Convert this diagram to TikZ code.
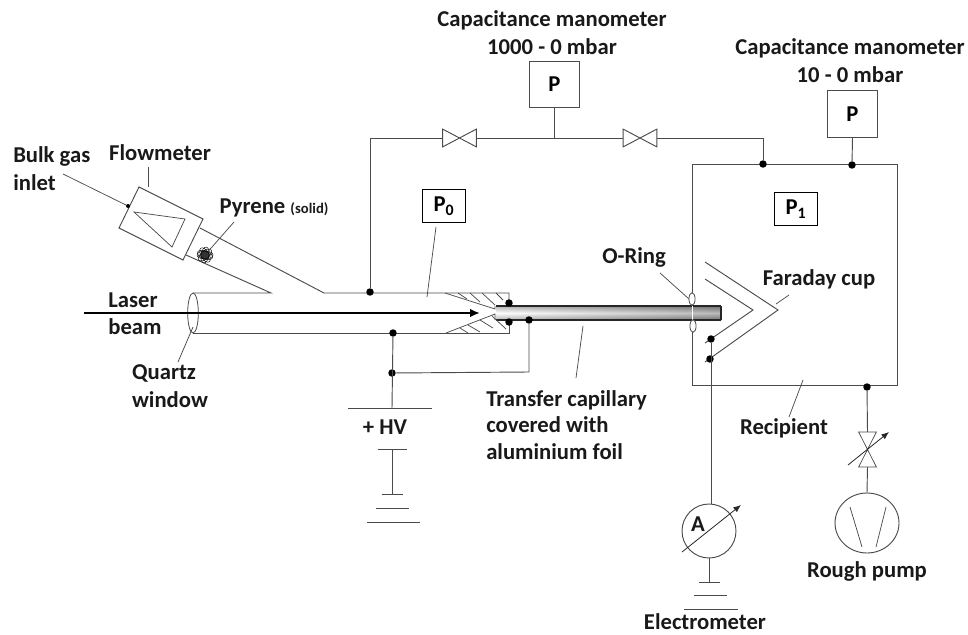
\documentclass[tikz,border=0pt]{standalone}
\usepackage{fontspec}
\setmainfont{Carlito}
\usetikzlibrary{arrows.meta,positioning,calc,shapes.geometric}
\definecolor{pipegray}{RGB}{75,75,75}
\definecolor{capgray}{RGB}{120,120,120}

\begin{document}
\begin{tikzpicture}[x=0.75pt,y=-0.75pt,
  pipe/.style={draw=pipegray,line width=0.7pt},
  thinline/.style={draw=pipegray,line width=0.55pt},
  lbl/.style={font=\fontsize{17}{20}\selectfont\bfseries,text=black!90,inner sep=0pt,align=center},
  pbox/.style={draw=pipegray,line width=0.7pt,minimum width=38pt,minimum height=35pt,inner sep=0pt,font=\fontsize{17}{20}\selectfont\bfseries},
  pzero/.style={draw=black,line width=1.1pt,minimum width=32pt,minimum height=25pt,inner sep=0pt,font=\fontsize{17}{20}\selectfont\bfseries},
  jdot/.style={circle,fill=black,inner sep=0pt,minimum size=5.6pt},
  valvebox/.style={inner sep=0pt,minimum width=25pt,minimum height=13pt},
  arrow/.style={-{Latex[length=2mm,width=1.6mm]},line width=0.6pt,draw=black!85}
]
\useasboundingbox (0,0) rectangle (968,635);
% labels
\node[lbl] (capa) at (552,20) {Capacitance manometer};
\node[lbl] (capb) at (552,47) {1000 - 0 mbar};
\node[lbl] (capc) at (850,48) {Capacitance manometer};
\node[lbl] (capd) at (850,75) {10 - 0 mbar};
\node[lbl,anchor=west] (bulka) at (13,156) {Bulk gas};
\node[lbl,anchor=west] (bulkb) at (13,183) {inlet};
\node[lbl] (flow) at (160,153) {Flowmeter};
\node[lbl] (pyr) at (274,208) {Pyrene {\fontsize{11}{12}\selectfont (solid)}};
\node[lbl] (lasera) at (133,300) {Laser};
\node[lbl] (laserb) at (135,327) {beam};
\node[lbl] (quartz) at (164,373) {Quartz};
\node[lbl] (window) at (170,400) {window};
\node[lbl] (hv) at (385,427) {+ HV};
\node[lbl,align=left,anchor=north west] (transfer) at (486,390) {Transfer capillary\\covered with\\aluminium foil};
\node[lbl] (oring) at (634,257) {O-Ring};
\node[lbl] (faraday) at (819,279) {Faraday cup};
\node[lbl] (recip) at (784,428) {Recipient};
\node[lbl] (rough) at (867,571) {Rough pump};
\node[lbl] (electro) at (705,622) {Electrometer};
% pressure boxes
\node[pbox] (pa) at (554.5,84.5) {P};
\node[pbox] (pb) at (852.5,114) {P};
\node[pzero] (pzeroo) at (444,206) {P\textsubscript{0}};
\node[pzero] (pone) at (796,209) {P\textsubscript{1}};
% valves
\node[valvebox] (va) at (459.5,138) {};
\node[valvebox] (vb) at (640,138) {};
\draw[pipe] (va.north west) -- (va.south east) -- (va.north east) -- (va.south west) -- cycle;
\draw[pipe] (vb.north west) -- (vb.south east) -- (vb.north east) -- (vb.south west) -- cycle;
\node[inner sep=0pt,minimum width=13pt,minimum height=26pt] (vc) at (867.5,449.5) {};
\draw[thinline] (vc.north west) -- (vc.north east) -- (vc.south west) -- (vc.south east) -- cycle;
% recipient
\draw[pipe] (692,164) rectangle (897,385);
% capillary
\shade[top color=capgray,bottom color=capgray,middle color=white] (496,306) rectangle (721,320);
\shade[left color=white,right color=black!60,opacity=0.45] (496,306) rectangle (721,320);
\draw[line width=1.2pt,draw=black!85] (496,306) -- (721,306);
\draw[line width=1.2pt,draw=black!85] (496,320) -- (721,320);
\draw[line width=0.8pt,draw=black!85] (721,306) -- (721,320);
\draw[white,line width=0.5pt] (692,306) -- (692,320);
% source body
\coordinate (ta) at (193,293);
\coordinate (tb) at (271,293);
\coordinate (tc) at (324,293);
\coordinate (td) at (509,293);
\coordinate (te) at (509,333);
\coordinate (tf) at (193,333);
\draw[pipe] (ta) -- (tb) -- (186,255);
\draw[pipe] (200,228) -- (tc) -- (td) -- (509,306);
\draw[pipe] (509,320) -- (te) -- (tf);
\node[draw=pipegray,line width=0.6pt,ellipse,inner sep=0pt,minimum width=8pt,minimum height=30pt] (quartzwin) at (193,313) {};
% nozzle
\draw[thinline] (445,293) -- (495,309) -- (495,306);
\draw[thinline] (446,333) -- (495,314) -- (495,320);
\draw[thinline] (458,293) -- (467,299);
\draw[thinline] (470,293) -- (480,302);
\draw[thinline] (482,293) -- (495,305);
\draw[thinline] (496,293) -- (503,300);
\draw[thinline] (460,328) -- (468,333);
\draw[thinline] (468,325) -- (480,332);
\draw[thinline] (480,320) -- (493,328);
\draw[thinline] (492,316) -- (506,329);
% flowmeter
\draw[pipe] (139,187) -- (203,219) -- (183,260) -- (119,228) -- cycle;
\draw[thinline] (134,212) -- (185,219) -- (172,247) -- cycle;
\node[circle,fill=black,inner sep=0pt,minimum size=3pt] (inlet) at (128,206) {};
\coordinate (bulkend) at (63,174);
\draw[thinline] (bulkend) -- (inlet);
\draw[thinline] (148,167) -- (148,187);
% pyrene
\node[circle,inner sep=0pt,minimum size=7pt,fill=black!80] (blob) at (205,255) {};
\foreach \ang in {0,40,80,120,160}
  \draw[line width=0.35pt,rotate around={\ang:(205,255)}] (205,255) ellipse (8 and 4);
\draw[thinline] (234,222) -- (blob);
% laser
\draw[-{Latex[length=2.6mm,width=2.2mm]},line width=1.5pt,black] (84,313) -- (480,313);
% top line
\node[jdot] (dla) at (370,292) {};
\node[jdot] (dlb) at (763,164) {};
\node[jdot] (dlc) at (852,165) {};
\draw[pipe] (dla) |- (va.west);
\draw[pipe] (va.east) -- (vb.west);
\draw[pipe] (vb.east) -| (dlb);
\draw[pipe] (pa.south) -- (pa.south |- va);
\draw[pipe] (pb.south) -- (dlc);
% HV connection
\node[jdot] (dha) at (393,333) {};
\node[jdot] (dhb) at (392,373) {};
\node[jdot] (dhc) at (529,320) {};
\node[jdot] (dhd) at (509,303) {};
\node[jdot] (dhe) at (509,322) {};
\coordinate (hvbar) at (392,408);
\coordinate (hvtop) at (392,449);
\coordinate (hvgnd) at (392,494);
\draw[pipe] (dha) -- (hvbar);
\draw[pipe] (dhb) -- (529,372) -- (dhc);
\draw[pipe] (348,408) -- (432,408);
\draw[pipe] (378,449) -- (407,449);
\draw[pipe] (hvtop) -- (hvgnd);
\draw[pipe] (382,494) -- (403,494);
\draw[pipe] (376,508) -- (409,508);
\draw[pipe] (367,522) -- (420,522);
% leaders
\draw[thinline] (436,227) -- (427,297);
\draw[thinline] (193,327) -- (178,362);
\draw[thinline] (583,326) -- (576,378);
\draw[thinline] (660,273) -- (689,299);
\draw[thinline] (789,295) -- (776,304);
\draw[thinline] (803,380) -- (789,417);
% o-rings
\node[draw=pipegray,line width=0.6pt,fill=white,ellipse,inner sep=0pt,minimum width=4.6pt,minimum height=9.5pt] (ora) at (692,299) {};
\node[draw=pipegray,line width=0.6pt,fill=white,ellipse,inner sep=0pt,minimum width=4.6pt,minimum height=9.5pt] (orb) at (693,326) {};
% faraday cup
\draw[pipe] (705,262) -- (778,310) -- (705,362);
\draw[pipe] (705,279) -- (753,310) -- (705,343);
\node[jdot] (dfa) at (711,339) {};
\node[jdot] (dfb) at (710,359) {};
% electrometer
\node[draw=pipegray,line width=0.7pt,circle,inner sep=0pt,minimum size=40.5pt] (amp) at (709,531) {};
\node[lbl] (ampa) at (698,524) {A};
\draw[pipe] (dfa) -- (dfa |- amp.north);
\draw[arrow] (682,552) -- (741,505);
\coordinate (gndtop) at (709,582);
\draw[pipe] (amp.south) -- (gndtop);
\draw[pipe] (699,582) -- (720,582);
\draw[pipe] (694,595) -- (727,595);
\draw[pipe] (684,609) -- (738,609);
% pump
\node[jdot] (dpa) at (867,387) {};
\node[draw=pipegray,line width=0.7pt,ellipse,inner sep=0pt,minimum width=48pt,minimum height=45pt] (pump) at (867,523) {};
\draw[pipe] (dpa) -- (vc.north);
\draw[pipe] (vc.south) -- (pump.north);
\draw[arrow] (848,465) -- (889,432);
\draw[thinline] (850,507) -- (862,547);
\draw[thinline] (886,507) -- (876,547);
\end{tikzpicture}
\end{document}
